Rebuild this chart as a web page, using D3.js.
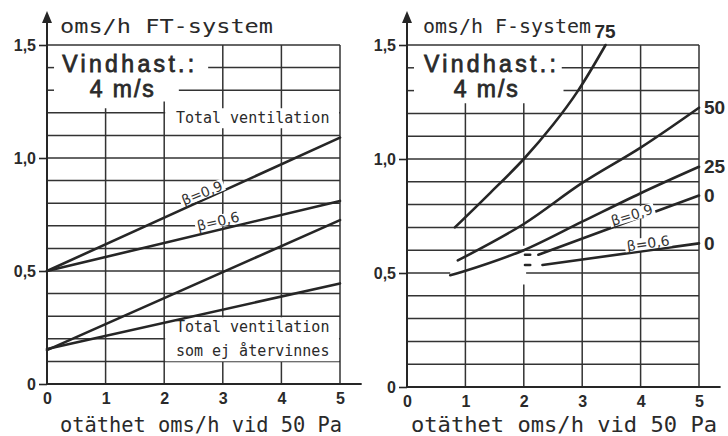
<!DOCTYPE html>
<html>
  <head>
    <meta charset="utf-8">
    <title>Vindhast 4 m/s - FT-system och F-system</title>
    <script src="https://d3js.org/d3.v7.min.js"></script>
    <style>
      body { margin: 0; background: #fff; }
      svg { display: block; }
      .grid line { stroke: #333; stroke-width: 1.5; }
      .curve { fill: none; stroke: #262626; stroke-width: 2.6; stroke-linecap: round; }
      .axisLine { stroke: #262626; stroke-width: 2; }
      .arrow { fill: #262626; }
      .tick text { font-family: "Liberation Sans", Arial, sans-serif; font-weight: bold; font-size: 16px; fill: #2a2a2a; }
      .tick line { stroke: #262626; stroke-width: 1.6; }
      .mono { font-family: "DejaVu Sans Mono", monospace; fill: #2a2a2a; }
      .big { font-family: "Liberation Sans", Arial, sans-serif; font-size: 23px; fill: #2a2a2a; stroke: #2a2a2a; stroke-width: 0.8; }
      .beta { font-family: "DejaVu Sans", sans-serif; font-size: 14px; fill: #333; }
      .end { font-family: "Liberation Sans", Arial, sans-serif; font-weight: bold; font-size: 19px; fill: #2a2a2a; }
      .knock { fill: #fff; }
    </style>
  </head>
  <body>
    <svg id="chart" width="728" height="436"></svg>
    <script>
      // data: x = otäthet oms/h vid 50 Pa, y = oms/h
      xTicks = [0, 1, 2, 3, 4, 5];
      yTicks = [0, 0.5, 1.0, 1.5];
      // FT-system
      ftTotal09 = [[0, 0.50], [5, 1.09]];
      ftTotal06 = [[0, 0.50], [5, 0.81]];
      ftLost09 = [[0, 0.15], [5, 0.725]];
      ftLost06 = [[0, 0.155], [5, 0.445]];
      // F-system
      f75 = [[0.82, 0.70], [1.4, 0.845], [2.0, 1.0], [2.5, 1.15], [2.93, 1.3], [3.40, 1.5]];
      f50 = [[0.87, 0.555], [2, 0.715], [3, 0.895], [4, 1.05], [5, 1.225]];
      f25 = [[0.74, 0.49], [0.95, 0.505], [2, 0.60], [3, 0.725], [4, 0.85], [5, 0.966]];
      f0b09 = [[2.25, 0.58], [5, 0.84]];
      f0b06 = [[2.32, 0.535], [5, 0.63]];
      fStub09 = [[2.02, 0.58], [2.11, 0.58]];
      fStub06 = [[2.02, 0.535], [2.11, 0.535]];
      fEndLabels = ["75", "50", "25", "0", "0"];

      // grid: every 0.1 oms/h and every 1 oms/h, with the gaps of the original drawing
      hGrid = d3.range(1, 16).map(function(d) { return d / 10; });
      vGrid = [1, 2, 3, 4, 5];
      ftHGaps = [[1.4, 0.12, 2.75], [1.3, 0.12, 2.25]];
      ftVGaps = [[1, 1.22, 1.5], [2, 1.25, 1.5]];
      fHGaps = [[1.4, 0.12, 2.65], [1.3, 0.12, 2.68], [0.5, 0.74, 2.04]];
      fVGaps = [[1, 1.245, 1.5], [2, 1.245, 1.5], [2, 0.45, 0.62]];

      panels = [
        { x0: 47, x1: 340, y0: 384, y1: 45, title: "oms/h   FT-system", titleX: 60, titleLen: 213,
          axisX: 60, axisLen: 282, vx: [0.26, 0.73], hGaps: ftHGaps, vGaps: ftVGaps,
          series: [ftTotal09, ftTotal06, ftLost09, ftLost06], stubs: [],
          betas: [["β=0,9", 2.645, 0.845, -22], ["β=0,6", 2.92, 0.72, -13]] },
        { x0: 407, x1: 699, y0: 387, y1: 45, title: "oms/h F-system", titleX: 423, titleLen: 168,
          axisX: 411, axisLen: 306, vx: [0.29, 0.8], hGaps: fHGaps, vGaps: fVGaps,
          series: [f75, f50, f25, f0b09, f0b06], stubs: [fStub09, fStub06], ends: fEndLabels,
          betas: [["β=0,9", 3.85, 0.754, -17], ["β=0,6", 4.13, 0.63, -8]] }
      ];

      chart = d3.select("#chart");
      yFmt = function(d) { return d === 0 ? "0" : d3.format(".1f")(d).replace(".", ","); };

      // cut a line from lo to hi at the gaps that belong to value v
      function split(v, lo, hi, gaps) {
        var cuts = gaps.filter(function(g) { return Math.abs(g[0] - v) < 1e-9; })
          .sort(function(a, b) { return a[1] - b[1]; });
        var out = [], start = lo;
        cuts.forEach(function(g) {
          if (g[1] > start) out.push([start, g[1]]);
          start = Math.max(start, g[2]);
        });
        if (start < hi) out.push([start, hi]);
        return out;
      }

      panels.forEach(function(p, pi) {
        var x = d3.scaleLinear().domain([0, 5]).range([p.x0, p.x1]);
        var y = d3.scaleLinear().domain([0, 1.5]).range([p.y0, p.y1]);
        var g = chart.append("g");
        var gGrid = g.append("g").classed("grid", true);
        var gMask = g.append("g");
        var gCurves = g.append("g");
        var gText = g.append("g");

        // grid
        hGrid.forEach(function(v) {
          split(v, 0, 5, p.hGaps).forEach(function(s) {
            gGrid.append("line")
              .attr("x1", x(s[0])).attr("x2", x(s[1]))
              .attr("y1", y(v)).attr("y2", y(v));
          });
        });
        vGrid.forEach(function(v) {
          split(v, 0, 1.5, p.vGaps).forEach(function(s) {
            gGrid.append("line")
              .attr("x1", x(v)).attr("x2", x(v))
              .attr("y1", y(s[0])).attr("y2", y(s[1]));
          });
        });

        // axes
        g.append("line").classed("axisLine", true)
          .attr("x1", x(0)).attr("x2", x(5.37))
          .attr("y1", y(0)).attr("y2", y(0));
        g.append("line").classed("axisLine", true)
          .attr("x1", x(0)).attr("x2", x(0))
          .attr("y1", y(0)).attr("y2", y(1.5) - 22);
        g.append("path").classed("arrow", true)
          .attr("d", "M" + x(0) + "," + (y(1.5) - 34) + "l5,12h-10z");
        var yAxis = g.append("g")
          .attr("transform", "translate(" + x(0) + ",0)")
          .call(d3.axisLeft(y).tickValues(yTicks).tickSize(8).tickPadding(3).tickFormat(yFmt));
        yAxis.select(".domain").remove();
        var xAxis = g.append("g")
          .attr("transform", "translate(0," + y(0) + ")")
          .call(d3.axisBottom(x).tickValues(xTicks).tickSize(0).tickPadding(9).tickFormat(d3.format("d")));
        xAxis.select(".domain").remove();

        // curves
        var line = d3.line()
          .x(function(d) { return x(d[0]); })
          .y(function(d) { return y(d[1]); })
          .curve(d3.curveCatmullRom);
        gCurves.selectAll(".curve")
          .data(p.series.concat(p.stubs))
          .enter().append("path")
            .classed("curve", true)
            .attr("d", line);

        // titles
        gText.append("text").classed("mono", true)
          .attr("x", p.titleX).attr("y", 33)
          .attr("font-size", 20)
          .attr("textLength", p.titleLen)
          .attr("lengthAdjust", "spacingAndGlyphs")
          .text(p.title);
        gText.append("text").classed("mono", true)
          .attr("x", p.axisX).attr("y", 432)
          .attr("font-size", 21)
          .attr("textLength", p.axisLen)
          .attr("lengthAdjust", "spacingAndGlyphs")
          .text("otäthet oms/h vid 50 Pa");
        gText.append("text").classed("big", true)
          .attr("x", x(p.vx[0])).attr("y", y(1.38))
          .attr("textLength", 132)
          .text("Vindhast.:");
        gText.append("text").classed("big", true)
          .attr("x", x(p.vx[1])).attr("y", y(1.27))
          .attr("textLength", 64)
          .text("4 m/s");

        // β labels with a white knockout behind them
        p.betas.forEach(function(b) {
          var lg = gText.append("g")
            .attr("transform", "translate(" + x(b[1]) + "," + y(b[2]) + ") rotate(" + b[3] + ")");
          var t = lg.append("text").classed("beta", true)
            .attr("text-anchor", "middle")
            .attr("dy", "0.35em")
            .text(b[0]);
          var bb = t.node().getBBox();
          lg.insert("rect", "text").classed("knock", true)
            .attr("x", bb.x - 2).attr("y", bb.y + 2)
            .attr("width", bb.width + 4).attr("height", bb.height - 4);
        });

        // end labels of the F-system curves
        if (p.ends) {
          p.series.forEach(function(s, i) {
            var last = s[s.length - 1];
            var top = i === 0;
            gText.append("text").classed("end", true)
              .attr("x", x(last[0]) + (top ? -11 : 5))
              .attr("y", y(last[1]) + (top ? -14 : 0))
              .attr("dy", "0.35em")
              .text(p.ends[i]);
          });
        }

        // boxed labels in the FT panel
        if (pi === 0) {
          var boxes = [[1.177, ["Total ventilation"]], [0.252, ["Total ventilation", "som ej återvinnes"]]];
          boxes.forEach(function(b) {
            var texts = b[1].map(function(s, j) {
              return gText.append("text").classed("mono", true)
                .attr("font-size", 15)
                .attr("x", x(2.2))
                .attr("y", y(b[0]) + j * 24)
                .attr("dy", "0.35em")
                .text(s);
            });
            var top = texts[0].node().getBBox().y;
            var last = texts[texts.length - 1].node().getBBox();
            gMask.append("rect").classed("knock", true)
              .attr("x", x(2) + 1).attr("width", x(5) - x(2) - 2)
              .attr("y", top - 1).attr("height", last.y + last.height - top + 2);
          });
        }
      });
    </script>
  </body>
</html>
